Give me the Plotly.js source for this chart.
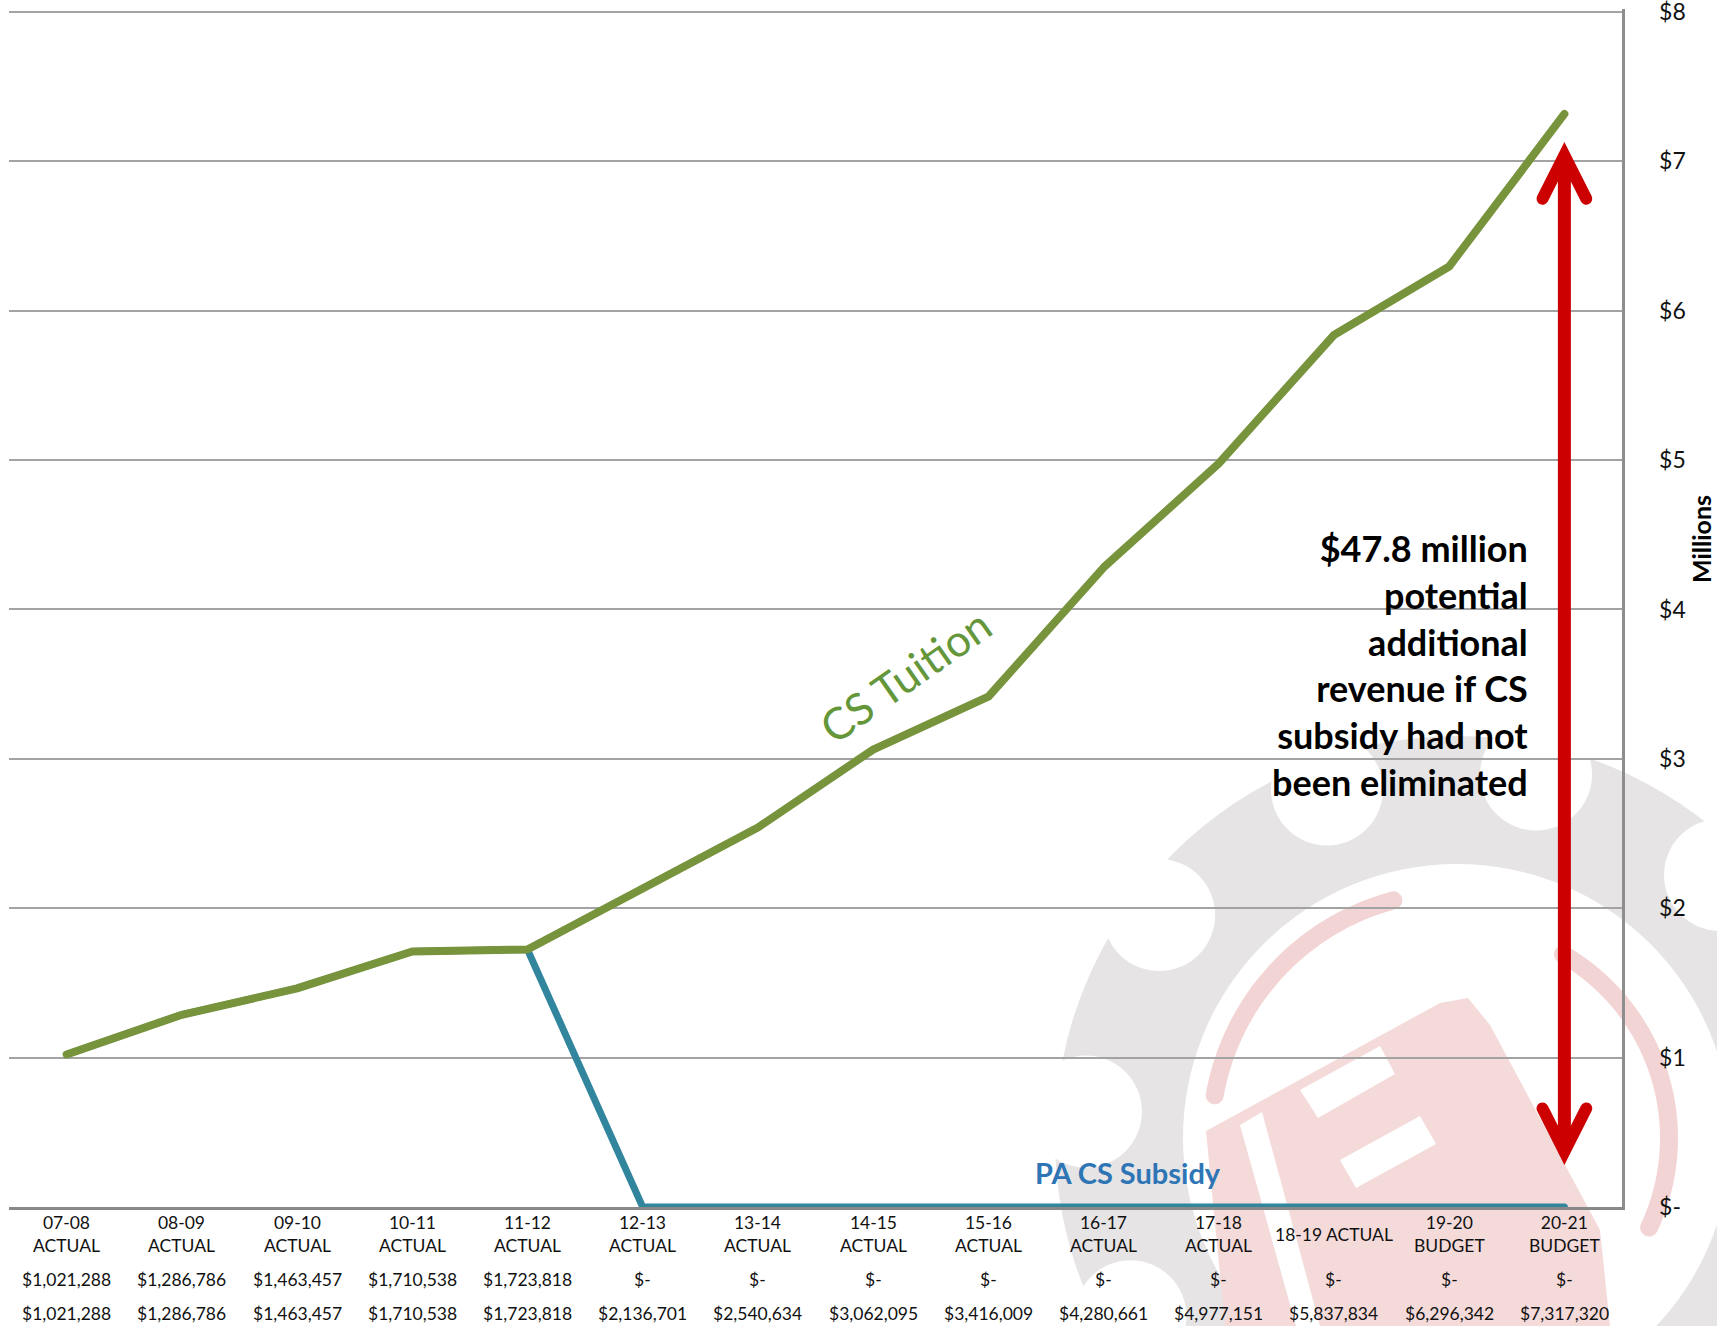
<!DOCTYPE html>
<html>
<head>
<meta charset="utf-8">
<script src="https://cdn.plot.ly/plotly-3.0.1.min.js"></script>
<style>
  html, body { margin: 0; padding: 0; background: #ffffff; }
  #chart { width: 1717px; height: 1326px; }
  .scatterlayer .js-line { stroke-linejoin: round !important; stroke-linecap: round !important; }
  .shapelayer path { stroke-linecap: round; }
</style>
</head>
<body>
<div id="chart"></div>
<script>
// School years shown on the x axis (two-line labels, one fits on a single line)
const categoryLabels = [
  '07-08<br>ACTUAL', '08-09<br>ACTUAL', '09-10<br>ACTUAL', '10-11<br>ACTUAL',
  '11-12<br>ACTUAL', '12-13<br>ACTUAL', '13-14<br>ACTUAL', '14-15<br>ACTUAL',
  '15-16<br>ACTUAL', '16-17<br>ACTUAL', '17-18<br>ACTUAL', '18-19 ACTUAL',
  '19-20<br>BUDGET', '20-21<br>BUDGET'
];

// State charter school subsidy received (dollars)
const subsidyValues = [
  1021288, 1286786, 1463457, 1710538, 1723818,
  0, 0, 0, 0, 0, 0, 0, 0, 0
];

// Charter school tuition paid (dollars)
const tuitionValues = [
  1021288, 1286786, 1463457, 1710538, 1723818,
  2136701, 2540634, 3062095, 3416009, 4280661,
  4977151, 5837834, 6296342, 7317320
];

// Right-hand axis ticks, in millions
const yTickValues = [0, 1, 2, 3, 4, 5, 6, 7, 8];
const yTickLabels = ['$-', '$1', '$2', '$3', '$4', '$5', '$6', '$7', '$8'];

const calloutLines = [
  '$47.8 million', 'potential', 'additional',
  'revenue if CS', 'subsidy had not', 'been eliminated'
];

const FONT = 'Lato, "Open Sans", sans-serif';
const GREEN = '#77933C';
const TEAL = '#31859C';
const RED = '#CC0000';

const toMillions = v => v / 1e6;
const money = v => v === 0 ? '$-' : '$' + v.toLocaleString('en-US');

// Page geometry (pixels); the y range runs a hair past $8 so its gridline is kept
const W = 1717, H = 1326;
const Y_MAX = 8.02;
const M = { l: 9, r: 95, t: 9, b: 119 };
const plotW = W - M.l - M.r, plotH = H - M.t - M.b;
const px = x => (x - M.l) / plotW;
const py = y => (H - M.b - y) / plotH;

function disc(cx, cy, r, fill) {
  return {
    type: 'circle', xref: 'paper', yref: 'paper', layer: 'below',
    x0: px(cx - r), x1: px(cx + r), y0: py(cy + r), y1: py(cy - r),
    fillcolor: fill, line: { width: 0 }
  };
}
function arc(cx, cy, r, a0, a1, color, width) {
  const pts = [];
  for (let i = 0; i <= 40; i++) {
    const a = (a0 + (a1 - a0) * i / 40) * Math.PI / 180;
    pts.push((i ? 'L' : 'M') + px(cx + r * Math.cos(a)).toFixed(5) + ',' + py(cy - r * Math.sin(a)).toFixed(5));
  }
  return { type: 'path', xref: 'paper', yref: 'paper', layer: 'below', path: pts.join(' '),
    line: { color: color, width: width } };
}
function poly(points, fill) {
  const d = points.map((p, i) => (i ? 'L' : 'M') + px(p[0]).toFixed(5) + ',' + py(p[1]).toFixed(5)).join(' ') + ' Z';
  return { type: 'path', xref: 'paper', yref: 'paper', layer: 'below', path: d, fillcolor: fill, line: { width: 0 } };
}

// Faded gear emblem behind the lower right of the plot
const GEAR_GRAY = '#E6E4E4';
const EMBLEM_PINK = '#F3D4D4';
const gc = [1457, 1138];
const emblem = [disc(gc[0], gc[1], 402, GEAR_GRAY)];
for (let k = 0; k < 11; k++) {
  const a = (45 + 32.73 * k) * Math.PI / 180;
  emblem.push(disc(gc[0] + 372 * Math.cos(a), gc[1] - 372 * Math.sin(a), 56, '#ffffff'));
}
emblem.push(disc(gc[0], gc[1], 274, '#ffffff'));
emblem.push(arc(gc[0], gc[1], 246, 105, 170, EMBLEM_PINK, 18));
emblem.push(arc(gc[0], gc[1], 212, -25, 60, EMBLEM_PINK, 18));
emblem.push(poly([[1206, 1131], [1440, 1003], [1468, 998], [1490, 1025], [1600, 1230], [1610, 1326], [1225, 1326]], '#F5DADA'));
// light strokes across the shield
emblem.push(poly([[1240, 1125], [1262, 1112], [1320, 1326], [1296, 1326]], '#ffffff'));
emblem.push(poly([[1300, 1090], [1380, 1046], [1395, 1074], [1318, 1118]], '#ffffff'));
emblem.push(poly([[1340, 1160], [1420, 1116], [1436, 1144], [1356, 1188]], '#ffffff'));

// Double-headed arrow at the final year
const last = tuitionValues.length - 1;
const arrowTop = 7.04, arrowBottom = 0.37;
const headDx = 0.19, headDy = 0.29;
const arrow = [
  {
    type: 'line', xref: 'x', yref: 'y', x0: last, x1: last,
    y0: arrowBottom + 0.06, y1: arrowTop - 0.06,
    line: { color: RED, width: 13 }
  },
  {
    type: 'path', xref: 'x', yref: 'y',
    path: `M ${last - headDx},${arrowTop - headDy} L ${last},${arrowTop} L ${last + headDx},${arrowTop - headDy}`,
    line: { color: RED, width: 12 }
  },
  {
    type: 'path', xref: 'x', yref: 'y',
    path: `M ${last - headDx},${arrowBottom + headDy} L ${last},${arrowBottom} L ${last + headDx},${arrowBottom + headDy}`,
    line: { color: RED, width: 12 }
  }
];

// Data table under the axis: year label, subsidy row, tuition row
const tableFont = { family: FONT, size: 17.5, color: '#111111' };
const tableNotes = [];
categoryLabels.forEach((c, i) => {
  tableNotes.push({ x: c, xref: 'x', y: py(1234), yref: 'paper', text: c, showarrow: false,
    yanchor: 'middle', font: tableFont });
  tableNotes.push({ x: c, xref: 'x', y: py(1279), yref: 'paper', text: money(subsidyValues[i]), showarrow: false,
    yanchor: 'middle', font: tableFont });
  tableNotes.push({ x: c, xref: 'x', y: py(1313), yref: 'paper', text: money(tuitionValues[i]), showarrow: false,
    yanchor: 'middle', font: tableFont });
});

const traces = [
  {
    x: categoryLabels, y: subsidyValues.map(toMillions), type: 'scatter', mode: 'lines',
    name: 'PA CS Subsidy', line: { color: TEAL, width: 7 }, hoverinfo: 'skip'
  },
  {
    x: categoryLabels, y: tuitionValues.map(toMillions), type: 'scatter', mode: 'lines',
    name: 'CS Tuition', line: { color: GREEN, width: 8 }, hoverinfo: 'skip'
  }
];

const layout = {
  width: W, height: H,
  margin: M,
  paper_bgcolor: '#ffffff',
  plot_bgcolor: 'rgba(0,0,0,0)',
  showlegend: false,
  font: { family: FONT, color: '#000000' },
  xaxis: {
    type: 'category', range: [-0.5, categoryLabels.length - 0.5],
    showgrid: false, zeroline: false,
    showline: true, linecolor: '#888888', linewidth: 3,
    showticklabels: false, ticks: ''
  },
  yaxis: {
    side: 'right', range: [0, Y_MAX], tickvals: yTickValues, ticktext: yTickLabels,
    showgrid: true, gridcolor: '#A3A3A3', gridwidth: 2, zeroline: false,
    showline: true, linecolor: '#8E8E8E', linewidth: 2.5, ticks: '',
    ticklabelstandoff: 30, ticklabeloverflow: 'allow',
    tickfont: { family: FONT, size: 23, color: '#111111' }
  },
  shapes: emblem.concat(arrow),
  annotations: tableNotes.concat([
    {
      x: 7.28, y: 3.56, xref: 'x', yref: 'y', text: 'CS Tuition', showarrow: false,
      textangle: -35, font: { family: FONT, size: 44, color: '#64963A' }
    },
    {
      x: 9.21, y: 0.23, xref: 'x', yref: 'y', text: 'PA CS Subsidy', showarrow: false,
      font: { family: FONT, size: 29, color: '#2E75B6', weight: 'bold' }
    },
    {
      x: px(1530), y: py(665), xref: 'paper', yref: 'paper', xanchor: 'right', yanchor: 'middle',
      align: 'right', text: calloutLines.join('<br>'), showarrow: false,
      font: { family: FONT, size: 36, color: '#000000', weight: 'bold' }
    },
    {
      x: px(1701), y: py(539), xref: 'paper', yref: 'paper', xanchor: 'center', yanchor: 'middle',
      text: 'Millions', showarrow: false,
      textangle: -90, font: { family: FONT, size: 25, color: '#000000', weight: 'bold' }
    }
  ])
};

Plotly.newPlot('chart', traces, layout, { displayModeBar: false, staticPlot: true });
</script>
</body>
</html>
